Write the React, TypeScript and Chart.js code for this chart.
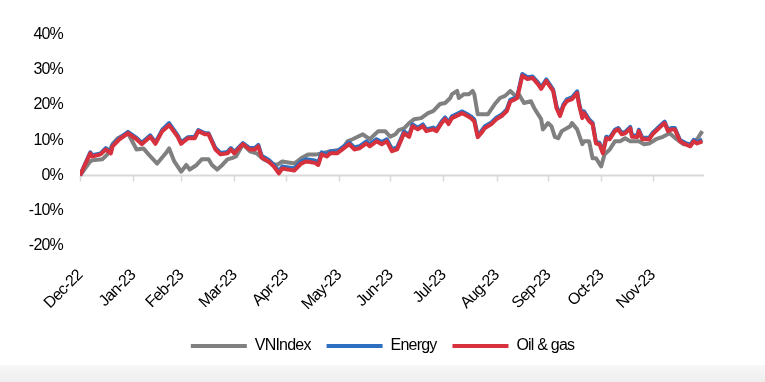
import React, { useEffect, useRef } from "react";
import { Chart, registerables } from "chart.js";

Chart.register(...registerables);

// X axis: days since 30-Dec-2022; ticks at month boundaries
const monthTickDays = [0, 31, 59, 90, 120, 151, 181, 212, 243, 273, 304, 334];
const monthLabels = ["Dec-22", "Jan-23", "Feb-23", "Mar-23", "Apr-23", "May-23", "Jun-23", "Jul-23", "Aug-23", "Sep-23", "Oct-23", "Nov-23"];
const xMaxDay = 364;
const yMin = -20;
const yMax = 40;

// VNIndex (% change)
const vnDays = [0, 6, 7, 13, 16, 19, 22, 28, 33, 37, 40, 45, 50, 52, 55, 59, 62, 64, 68, 71, 75, 77, 80, 83, 86, 89, 91, 95, 99, 103, 107, 112, 115, 118, 125, 129, 133, 138, 141, 146, 153, 156, 159, 165, 169, 174, 178, 181, 184, 186, 189, 192, 195, 199, 203, 206, 210, 213, 216, 217, 220, 221, 224, 227, 229, 230, 232, 235, 238, 242, 245, 248, 251, 254, 256, 259, 263, 265, 269, 270, 273, 275, 277, 279, 281, 286, 287, 290, 293, 294, 297, 299, 301, 304, 306, 309, 312, 315, 318, 321, 323, 326, 329, 332, 336, 340, 344, 348, 352, 356, 360, 363];
const vnValues = [0, 4.0, 4.3, 4.6, 6.0, 8.9, 10.6, 12.0, 7.4, 7.7, 6.0, 3.4, 6.3, 7.7, 4.0, 1.1, 3.0, 1.7, 3.0, 4.6, 4.6, 3.0, 1.7, 3.0, 4.6, 5.0, 5.4, 8.9, 6.9, 6.3, 4.6, 3.4, 3.0, 4.0, 3.4, 4.9, 6.0, 6.0, 6.3, 6.9, 7.4, 9.7, 10.3, 11.7, 10.3, 12.6, 12.6, 11.0, 11.7, 12.9, 13.4, 14.9, 16.0, 16.3, 17.7, 18.3, 20.3, 20.6, 22.0, 23.1, 24.0, 22.0, 23.1, 23.1, 24.0, 23.1, 17.4, 17.4, 17.4, 20.3, 22.0, 22.6, 24.0, 22.6, 23.1, 20.6, 21.1, 19.1, 16.0, 13.1, 14.9, 14.0, 11.0, 10.6, 12.6, 14.0, 14.9, 13.1, 8.9, 9.7, 9.7, 4.9, 4.9, 2.6, 6.0, 7.4, 9.7, 9.7, 10.6, 9.7, 9.7, 9.7, 8.9, 9.1, 10.3, 11.0, 12.0, 10.3, 8.9, 8.9, 10.3, 12.6];

// Energy and Oil & gas (% change), sampled on the same days
const sectorDays = [0, 6, 7, 12, 15, 18, 19, 23, 28, 33, 36, 41, 44, 48, 52, 57, 59, 63, 67, 69, 73, 75, 79, 82, 86, 88, 90, 95, 99, 102, 104, 106, 110, 113, 116, 118, 125, 129, 132, 137, 139, 141, 144, 146, 150, 153, 157, 160, 163, 167, 169, 173, 176, 179, 182, 185, 187, 189, 192, 194, 197, 200, 202, 206, 208, 211, 213, 215, 217, 223, 226, 228, 230, 232, 234, 236, 240, 243, 246, 249, 251, 254, 255, 258, 261, 264, 267, 269, 272, 274, 276, 278, 280, 282, 284, 287, 290, 291, 293, 294, 297, 299, 301, 303, 305, 307, 309, 312, 314, 316, 318, 321, 322, 325, 326, 328, 332, 334, 337, 341, 343, 345, 347, 350, 353, 356, 358, 360, 363];
const energyValues = [0, 6.6, 5.8, 6.3, 7.8, 6.7, 8.7, 10.6, 12.4, 10.7, 9.3, 11.4, 9.4, 13.0, 14.9, 11.4, 9.4, 10.9, 11.0, 12.9, 12.0, 12.0, 7.8, 6.4, 6.7, 7.8, 6.7, 9.2, 7.8, 7.8, 8.7, 5.6, 4.5, 3.1, 1.2, 2.6, 2.0, 4.0, 4.6, 4.3, 3.7, 6.6, 6.1, 6.9, 6.9, 8.0, 9.4, 8.0, 8.3, 9.7, 8.9, 10.3, 9.5, 10.3, 7.5, 8.0, 10.2, 12.5, 11.5, 14.5, 13.6, 14.5, 13.1, 13.6, 13.1, 15.4, 16.5, 15.1, 16.8, 18.2, 17.4, 16.8, 15.9, 11.4, 12.5, 13.9, 15.1, 16.5, 17.3, 18.8, 21.5, 22.1, 22.4, 28.8, 27.9, 28.1, 26.5, 25.0, 27.3, 25.9, 24.4, 19.6, 17.4, 20.2, 21.6, 22.2, 23.9, 20.8, 16.8, 18.2, 15.9, 15.0, 9.5, 9.3, 6.7, 11.0, 10.7, 13.0, 13.5, 12.1, 12.4, 13.8, 11.4, 11.3, 13.0, 10.7, 10.7, 12.1, 13.5, 15.3, 13.0, 13.5, 13.5, 10.1, 9.3, 8.7, 10.1, 9.5, 10.2];
const oilGasValues = [0, 6.3, 5.4, 6.0, 7.4, 6.3, 8.3, 10.3, 12.0, 10.3, 8.9, 11.0, 9.0, 12.6, 14.3, 11.0, 9.0, 10.6, 10.6, 12.6, 11.7, 11.7, 7.4, 6.0, 6.3, 7.4, 6.3, 8.9, 7.4, 7.4, 8.3, 5.1, 4.0, 2.6, 0.6, 2.0, 1.4, 3.4, 4.0, 3.6, 3.0, 6.0, 5.4, 6.3, 6.3, 7.4, 8.9, 7.4, 7.7, 9.1, 8.3, 9.7, 8.9, 9.7, 6.9, 7.4, 9.7, 12.0, 11.0, 14.0, 13.1, 14.0, 12.6, 13.1, 12.6, 14.9, 16.0, 14.6, 16.3, 17.7, 16.9, 16.3, 15.4, 10.9, 12.0, 13.4, 14.6, 16.0, 16.9, 18.3, 21.0, 21.7, 22.0, 28.3, 27.4, 27.7, 26.0, 24.6, 26.9, 25.4, 24.0, 19.1, 16.9, 19.7, 21.1, 21.7, 23.4, 20.3, 16.3, 17.7, 15.4, 14.6, 9.1, 8.9, 6.3, 10.6, 10.3, 12.6, 13.1, 11.7, 12.0, 13.4, 11.0, 10.9, 12.6, 10.3, 10.3, 11.7, 13.1, 14.9, 12.6, 13.1, 13.1, 9.7, 8.9, 8.3, 9.7, 9.1, 9.7];

const FONT_FAMILY = "'Liberation Sans', Arial, sans-serif";
const font = { family: FONT_FAMILY, size: 16 };
const LETTER_SPACING = "-0.8px";

const letterSpacingPlugin = {
  id: "letterSpacing",
  beforeLayout(chart: any) {
    chart.ctx.letterSpacing = LETTER_SPACING;
  },
  beforeDraw(chart: any) {
    chart.ctx.letterSpacing = LETTER_SPACING;
  },
};

const zeroAxisPlugin = {
  id: "zeroAxis",
  beforeDatasetsDraw(chart: any) {
    const { ctx, chartArea, scales } = chart;
    const y = scales.y.getPixelForValue(0);
    ctx.save();
    ctx.strokeStyle = "#d9d9d9";
    ctx.lineWidth = 2;
    ctx.beginPath();
    ctx.moveTo(chartArea.left, y);
    ctx.lineTo(chartArea.right, y);
    ctx.stroke();
    ctx.lineWidth = 1.5;
    ctx.beginPath();
    monthTickDays.forEach((d) => {
      const x = Math.round(scales.x.getPixelForValue(d)) + 0.5;
      ctx.moveTo(x, y);
      ctx.lineTo(x, y + 6);
    });
    ctx.stroke();
    ctx.restore();
  },
};

function toPoints(days: number[], values: number[]) {
  return days.map((d, i) => ({ x: d, y: values[i] }));
}

export default function App() {
  const ref = useRef<HTMLCanvasElement | null>(null);

  useEffect(() => {
    if (!ref.current) return;
    const chart = new Chart(ref.current, {
      type: "line",
      data: {
        datasets: [
          { label: "VNIndex", data: toPoints(vnDays, vnValues), borderColor: "#808080", backgroundColor: "#808080", borderWidth: 4, pointRadius: 0, tension: 0, borderJoinStyle: "round", order: 2 },
          { label: "Energy", data: toPoints(sectorDays, energyValues), borderColor: "#2f6fbf", backgroundColor: "#2f6fbf", borderWidth: 4, pointRadius: 0, tension: 0, borderJoinStyle: "round", order: 1 },
          { label: "Oil & gas", data: toPoints(sectorDays, oilGasValues), borderColor: "#d7313e", backgroundColor: "#d7313e", borderWidth: 4, pointRadius: 0, tension: 0, borderJoinStyle: "round", order: 0 },
        ],
      },
      options: {
        animation: false,
        responsive: true,
        maintainAspectRatio: false,
        layout: { padding: { top: 26, bottom: 10, left: 0, right: 0 } },
        scales: {
          x: {
            type: "linear", min: 0, max: xMaxDay,
            grid: { display: false, drawTicks: false }, border: { display: false },
            afterBuildTicks: (s: any) => { s.ticks = monthTickDays.map((v) => ({ value: v })); },
            afterFit: (s: any) => { s.height = 76; },
            ticks: {
              autoSkip: false, minRotation: 45, maxRotation: 45, padding: 20, font, color: "#000",
              callback: (v: any) => { const i = monthTickDays.indexOf(Number(v)); return i >= 0 ? monthLabels[i] : ""; },
            },
          },
          y: {
            min: yMin, max: yMax,
            grid: { display: false, drawTicks: false }, border: { display: false },
            afterFit: (s: any) => { s.width = 72; },
            ticks: { stepSize: 10, padding: 17, font, color: "#000", callback: (v: any) => `${v}%` },
          },
          y2: {
            position: "right", display: true,
            grid: { display: false, drawTicks: false }, border: { display: false },
            ticks: { display: false },
            afterFit: (s: any) => { s.width = 53; },
          },
        },
        plugins: {
          legend: {
            position: "bottom",
            labels: { usePointStyle: true, pointStyle: "line", pointStyleWidth: 56, padding: 16, font, color: "#000", sort: (a: any, b: any) => a.datasetIndex - b.datasetIndex },
          },
          tooltip: { enabled: false },
        },
      },
      plugins: [letterSpacingPlugin, zeroAxisPlugin],
    } as any);
    return () => chart.destroy();
  }, []);

  return (
    <div>
      <div style={{ position: "relative", width: 749, height: 366 }}>
        <canvas ref={ref} />
      </div>
      <div style={{ position: "fixed", left: 0, right: 0, bottom: 0, height: 17, background: "linear-gradient(#f7f7f7, #eeeeee)" }} />
    </div>
  );
}
